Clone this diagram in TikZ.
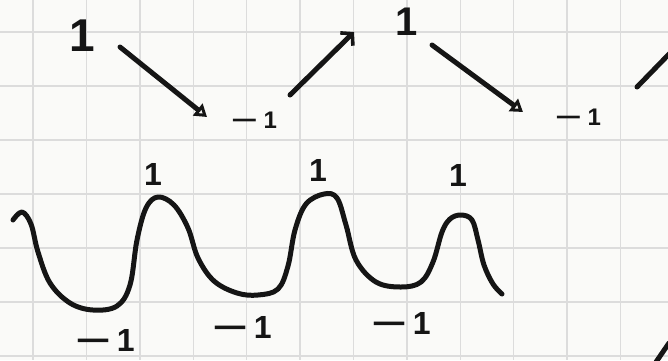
\documentclass[tikz,border=0pt]{standalone}
\usepackage{fontspec}
\setmainfont{Liberation Sans}
\usetikzlibrary{arrows.meta}
\definecolor{ink}{HTML}{151515}
\definecolor{gridc}{HTML}{DCDCDC}
\definecolor{paper}{HTML}{FAFAF8}
\newcommand{\wdash}{\scalebox{1.9}[1]{−}}
\tikzset{
  lbl/.style={inner sep=0pt, text=ink},
  bigl/.style={lbl, font=\fontsize{46}{46}\selectfont\bfseries},
  topl/.style={lbl, font=\fontsize{40}{40}\selectfont\bfseries},
  midl/.style={lbl, font=\fontsize{32}{32}\selectfont\bfseries},
  smalll/.style={lbl, font=\fontsize{24}{24}\selectfont\bfseries},
  stroke/.style={draw=ink, line width=5pt, line cap=round, line join=round},
  arr/.style={stroke, -{Triangle[open, length=12pt, width=15pt, line width=3.6pt]}},
  barb/.style={stroke, -{Straight Barb[length=8pt, width=18pt, line width=3.6pt]}},
  gridline/.style={draw=gridc, line width=1.4pt}
}
\begin{document}
\begin{tikzpicture}[x=1pt, y=-1pt]
  \fill[paper] (0,0) rectangle (668,360);
  \useasboundingbox (0,0) rectangle (668,360);
  % grid
  \foreach \i in {0,...,11} {
    \draw[gridline] ({33+53.4*\i},0) -- ({33+53.4*\i},360);
  }
  \foreach \j in {0,...,6} {
    \draw[gridline] (0,{32+54*\j}) -- (668,{32+54*\j});
  }
  % top row
  \node[bigl]   (t1) at (82,36)   {1};
  \node[smalll] (t2) at (254,120) {\wdash\hspace{6pt}1};
  \node[topl]   (t3) at (407,22)  {1};
  \node[smalll] (t4) at (578,117) {\wdash\hspace{6pt}1};
  \coordinate (t5) at (672,51);
  \draw[arr]  ([shift={(38,11)}]t1.center) -- ([shift={(-47,-3)}]t2.center);
  \draw[barb] ([shift={(36,-25)}]t2.center) -- ([shift={(-53,10)}]t3.center);
  \draw[arr]  ([shift={(25,23)}]t3.center) -- ([shift={(-55,-5)}]t4.center);
  \draw[stroke] ([shift={(59,-30)}]t4.center) -- (t5);
  % wave
  \draw[stroke] plot[smooth, tension=0.6] coordinates {
    (13,220) (22,212) (31,224) (38,252) (50,283) (70,303) (93,310)
    (117,306) (130,285) (137,240) (146,208) (158,197)
    (174,205) (188,228) (198,258) (214,281) (237,293) (258,295)
    (278,289) (288,266) (295,230) (306,204) (324,194)
    (337,198) (346,225) (356,260) (376,282) (401,287)
    (421,282) (433,262) (442,232) (450,219) (461,215) (472,220)
    (478,240) (484,265) (493,284) (502,294)};
  % bottom labels
  \node[midl]   (p1) at (153,174) {1};
  \node[midl]   (p2) at (318,170) {1};
  \node[midl]   (p3) at (458,175) {1};
  \node[midl]   (m1) at (105,340) {\wdash\hspace{6pt}1};
  \node[midl]   (m2) at (242,327) {\wdash\hspace{6pt}1};
  \node[midl]   (m3) at (401,323) {\wdash\hspace{6pt}1};
  % corner stroke
  \coordinate (c1) at (656,362);
  \coordinate (c2) at (669,343);
  \draw[stroke] (c1) -- (c2);
\end{tikzpicture}
\end{document}
